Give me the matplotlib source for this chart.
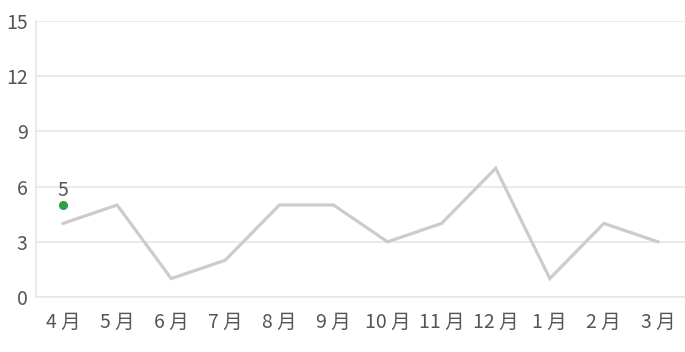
import matplotlib
matplotlib.use("Agg")
import matplotlib.pyplot as plt

plt.rcParams['font.family'] = ['Noto Sans CJK JP', 'DejaVu Sans']

months = ["4 月", "5 月", "6 月", "7 月", "8 月", "9 月", "10 月", "11 月", "12 月", "1 月", "2 月", "3 月"]
values = [4, 5, 1, 2, 5, 5, 3, 4, 7, 1, 4, 3]
# highlighted point
mark_idx = 0
mark_val = 5
yticks = [0, 3, 6, 9, 12, 15]

fig = plt.figure(figsize=(6.85, 3.52), dpi=100)
ax = fig.add_axes([36 / 685, 55 / 352, 1 - 36 / 685, (297 - 21) / 352])

x = list(range(len(months)))
ax.plot(x, values, color="#cccccc", lw=2.3, solid_joinstyle="miter", zorder=3)
ax.plot([mark_idx], [mark_val], "o", color="#2f9e44", ms=5.5, zorder=4)
ax.annotate(str(mark_val), (mark_idx, mark_val), xytext=(0, 3), textcoords="offset points",
            ha="center", va="bottom", fontsize=14, color="#555555")

ax.set_xlim(-0.5, len(months) - 0.5)
ax.set_ylim(0, 15)
ax.set_yticks(yticks)
ax.set_xticks(x)
ax.set_xticklabels(months)
ax.grid(axis="y", color="#e6e6e6", lw=1.2)
ax.set_axisbelow(True)

for s in ["top", "right"]:
    ax.spines[s].set_visible(False)
for s in ["left", "bottom"]:
    ax.spines[s].set_color("#e6e6e6")
    ax.spines[s].set_linewidth(1.2)

ax.tick_params(axis="both", length=0, labelsize=14, labelcolor="#555555")
ax.tick_params(axis="x", pad=11)
ax.tick_params(axis="y", pad=6)

fig.savefig("out.png", dpi=100)
